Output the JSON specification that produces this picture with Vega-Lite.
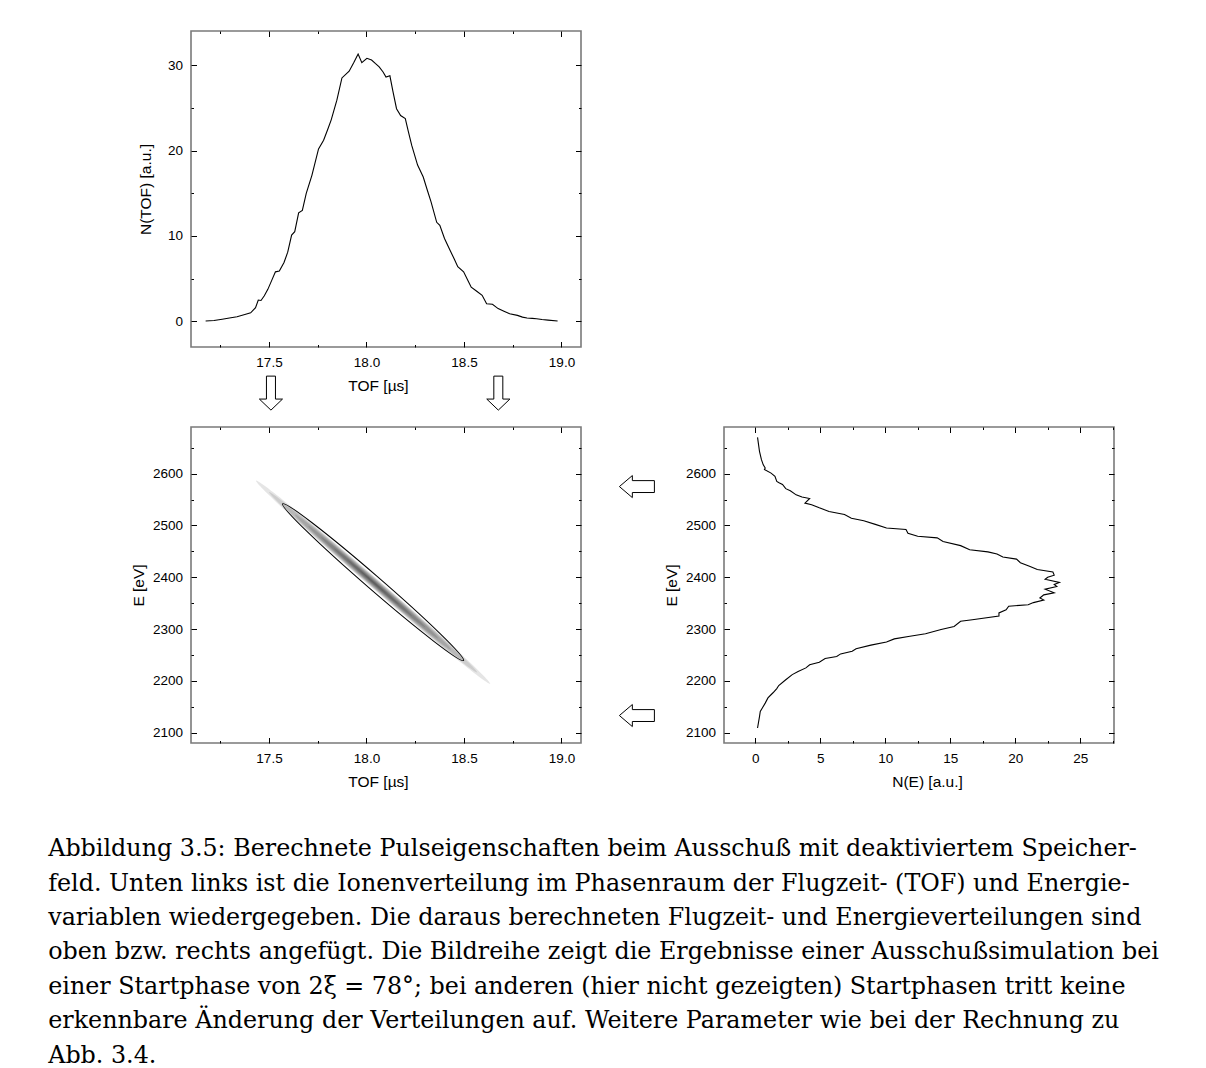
{
  "$schema": "https://vega.github.io/schema/vega-lite/v6.json",
  "background": "white",
  "padding": {"left": 48, "top": 29, "right": 5, "bottom": 0},
  "columns": 2,
  "bounds": "flush",
  "spacing": {"row": 80, "column": 143},
  "title": {
    "text": [
      "Abbildung 3.5: Berechnete Pulseigenschaften beim Ausschuß mit deaktiviertem Speicher-",
      "feld. Unten links ist die Ionenverteilung im Phasenraum der Flugzeit- (TOF) und Energie-",
      "variablen wiedergegeben. Die daraus berechneten Flugzeit- und Energieverteilungen sind",
      "oben bzw. rechts angefügt. Die Bildreihe zeigt die Ergebnisse einer Ausschußsimulation bei",
      "einer Startphase von 2ξ = 78°; bei anderen (hier nicht gezeigten) Startphasen tritt keine",
      "erkennbare Änderung der Verteilungen auf. Weitere Parameter wie bei der Rechnung zu",
      "Abb. 3.4."
    ],
    "orient": "bottom",
    "anchor": "start",
    "frame": "bounds",
    "dx": -82,
    "offset": 47,
    "font": "DejaVu Serif",
    "fontSize": 23.8,
    "fontWeight": "normal",
    "color": "black",
    "lineHeight": 34.4
  },
  "concat": [
    {
      "width": 390,
      "height": 316,
      "layer": [
        {
          "data": {"values": [
            {"TOF": 17.175, "N": 0.04}, {"TOF": 17.218, "N": 0.1}, {"TOF": 17.26, "N": 0.25},
            {"TOF": 17.297, "N": 0.4}, {"TOF": 17.336, "N": 0.55}, {"TOF": 17.376, "N": 0.8},
            {"TOF": 17.406, "N": 1.0}, {"TOF": 17.431, "N": 1.6}, {"TOF": 17.445, "N": 2.5},
            {"TOF": 17.459, "N": 2.45}, {"TOF": 17.476, "N": 3.0}, {"TOF": 17.494, "N": 3.75},
            {"TOF": 17.514, "N": 4.8}, {"TOF": 17.533, "N": 5.8}, {"TOF": 17.553, "N": 5.9},
            {"TOF": 17.577, "N": 6.9}, {"TOF": 17.596, "N": 8.1}, {"TOF": 17.616, "N": 10.1},
            {"TOF": 17.632, "N": 10.5}, {"TOF": 17.652, "N": 12.7}, {"TOF": 17.671, "N": 13.0},
            {"TOF": 17.691, "N": 15.0}, {"TOF": 17.72, "N": 17.1}, {"TOF": 17.754, "N": 20.2},
            {"TOF": 17.78, "N": 21.2}, {"TOF": 17.8, "N": 22.4}, {"TOF": 17.819, "N": 23.6},
            {"TOF": 17.848, "N": 25.9}, {"TOF": 17.874, "N": 28.5}, {"TOF": 17.911, "N": 29.3},
            {"TOF": 17.935, "N": 30.3}, {"TOF": 17.957, "N": 31.3}, {"TOF": 17.976, "N": 30.3},
            {"TOF": 18.002, "N": 30.8}, {"TOF": 18.026, "N": 30.6}, {"TOF": 18.045, "N": 30.2},
            {"TOF": 18.065, "N": 29.8}, {"TOF": 18.085, "N": 29.2}, {"TOF": 18.1, "N": 28.6},
            {"TOF": 18.12, "N": 28.75}, {"TOF": 18.135, "N": 27.0}, {"TOF": 18.154, "N": 24.9},
            {"TOF": 18.175, "N": 24.1}, {"TOF": 18.199, "N": 23.75}, {"TOF": 18.215, "N": 22.2},
            {"TOF": 18.232, "N": 20.6}, {"TOF": 18.262, "N": 18.3}, {"TOF": 18.291, "N": 16.9},
            {"TOF": 18.31, "N": 15.5}, {"TOF": 18.331, "N": 14.0}, {"TOF": 18.36, "N": 11.6},
            {"TOF": 18.376, "N": 11.25}, {"TOF": 18.4, "N": 9.7}, {"TOF": 18.429, "N": 8.3},
            {"TOF": 18.45, "N": 7.3}, {"TOF": 18.468, "N": 6.4}, {"TOF": 18.498, "N": 5.8},
            {"TOF": 18.52, "N": 4.8}, {"TOF": 18.537, "N": 4.0}, {"TOF": 18.567, "N": 3.5},
            {"TOF": 18.593, "N": 3.05}, {"TOF": 18.616, "N": 2.07}, {"TOF": 18.646, "N": 2.0},
            {"TOF": 18.675, "N": 1.5}, {"TOF": 18.705, "N": 1.2}, {"TOF": 18.734, "N": 0.9},
            {"TOF": 18.774, "N": 0.7}, {"TOF": 18.8, "N": 0.5}, {"TOF": 18.823, "N": 0.4},
            {"TOF": 18.85, "N": 0.35}, {"TOF": 18.872, "N": 0.3}, {"TOF": 18.9, "N": 0.22},
            {"TOF": 18.931, "N": 0.15}, {"TOF": 18.98, "N": 0.04}
          ]},
          "mark": {"type": "line", "color": "black", "strokeWidth": 1.1},
          "encoding": {
            "x": {
              "field": "TOF", "type": "quantitative",
              "scale": {"domain": [17.1, 19.1], "nice": false, "zero": false},
              "axis": {
                "orient": "bottom", "title": "TOF [µs]", "format": ".1f", "titleX": 187,
                "values": [17.25, 17.5, 17.75, 18.0, 18.25, 18.5, 18.75, 19.0],
                "labelExpr": "datum.value % 0.5 === 0 ? datum.label : ''",
                "tickSize": {"condition": {"test": "datum.value % 0.5 === 0", "value": -5.5}, "value": -2.5}
              }
            },
            "y": {
              "field": "N", "type": "quantitative",
              "scale": {"domain": [-3, 34], "nice": false, "zero": false},
              "axis": {
                "orient": "left", "title": "N(TOF) [a.u.]", "format": "d", "titleX": -46,
                "values": [0, 5, 10, 15, 20, 25, 30],
                "labelExpr": "datum.value % 10 === 0 ? datum.label : ''",
                "tickSize": {"condition": {"test": "datum.value % 10 === 0", "value": -5.5}, "value": -2.5}
              }
            }
          }
        },
        {
          "data": {"values": [{"TOF": 17.51, "N": -8.4}, {"TOF": 18.676, "N": -8.4}]},
          "mark": {
            "type": "point",
            "shape": "M-0.265,-1L0.265,-1L0.265,0.35L0.68,0.35L0,1L-0.68,0.35L-0.265,0.35Z",
            "size": 1156, "filled": true, "fill": "white", "stroke": "black",
            "strokeWidth": 1, "opacity": 1
          },
          "encoding": {
            "x": {
              "field": "TOF", "type": "quantitative",
              "scale": {"domain": [17.1, 19.1], "nice": false, "zero": false},
              "axis": {
                "orient": "top", "title": null, "labels": false,
                "values": [17.25, 17.5, 17.75, 18.0, 18.25, 18.5, 18.75, 19.0],
                "tickSize": {"condition": {"test": "datum.value % 0.5 === 0", "value": -5.5}, "value": -2.5}
              }
            },
            "y": {
              "field": "N", "type": "quantitative",
              "scale": {"domain": [-3, 34], "nice": false, "zero": false},
              "axis": {
                "orient": "right", "title": null, "labels": false,
                "values": [0, 5, 10, 15, 20, 25, 30],
                "tickSize": {"condition": {"test": "datum.value % 10 === 0", "value": -5.5}, "value": -2.5}
              }
            }
          }
        }
      ],
      "resolve": {"axis": {"x": "independent", "y": "independent"}}
    },
    {
      "width": 390,
      "height": 316,
      "view": {"stroke": null},
      "data": {"values": []},
      "mark": "point"
    },
    {
      "width": 390,
      "height": 316,
      "layer": [
        {
          "data": {"values": [
            {"TOF": 18.034, "E": 2390.5, "contour": 1},
            {"TOF": 18.034, "E": 2390.5, "contour": 2},
            {"TOF": 18.034, "E": 2390.5, "contour": 3},
            {"TOF": 18.034, "E": 2390.5, "contour": 4},
            {"TOF": 18.034, "E": 2390.5, "contour": 5},
            {"TOF": 18.034, "E": 2390.5, "contour": 6},
            {"TOF": 18.034, "E": 2390.5, "contour": 7},
            {"TOF": 18.034, "E": 2390.5, "contour": 8},
            {"TOF": 18.034, "E": 2390.5, "contour": 9}
          ]},
          "mark": {
            "type": "point",
            "shape": "M-1,0A1,0.032 0 1,0 1,0A1,0.032 0 1,0 -1,0Z",
            "filled": true, "fill": "black", "fillOpacity": 0.1,
            "strokeWidth": 0, "opacity": 1, "angle": 40.9
          },
          "encoding": {
            "x": {
              "field": "TOF", "type": "quantitative",
              "scale": {"domain": [17.1, 19.1], "nice": false, "zero": false},
              "axis": {
                "orient": "bottom", "title": "TOF [µs]", "format": ".1f", "titleX": 187,
                "values": [17.25, 17.5, 17.75, 18.0, 18.25, 18.5, 18.75, 19.0],
                "labelExpr": "datum.value % 0.5 === 0 ? datum.label : ''",
                "tickSize": {"condition": {"test": "datum.value % 0.5 === 0", "value": -5.5}, "value": -2.5}
              }
            },
            "y": {
              "field": "E", "type": "quantitative",
              "scale": {"domain": [2080, 2690], "nice": false, "zero": false},
              "axis": {
                "orient": "left", "title": "E [eV]", "format": "d", "titleX": -53,
                "values": [2100, 2150, 2200, 2250, 2300, 2350, 2400, 2450, 2500, 2550, 2600, 2650],
                "labelExpr": "datum.value % 100 === 0 ? datum.label : ''",
                "tickSize": {"condition": {"test": "datum.value % 100 === 0", "value": -5.5}, "value": -2.5}
              }
            },
            "size": {
              "field": "contour", "type": "quantitative", "legend": null,
              "scale": {"type": "pow", "exponent": 2, "domain": [0, 9], "range": [0, 96100]}
            }
          }
        },
        {
          "data": {"values": [{"TOF": 18.034, "E": 2390.5}]},
          "mark": {
            "type": "point",
            "shape": "M-1,0A1,0.0585 0 1,0 1,0A1,0.0585 0 1,0 -1,0Z",
            "filled": false, "stroke": "black", "strokeWidth": 1,
            "size": 57312, "opacity": 1, "angle": 40.9
          },
          "encoding": {
            "x": {
              "field": "TOF", "type": "quantitative",
              "scale": {"domain": [17.1, 19.1], "nice": false, "zero": false},
              "axis": {
                "orient": "top", "title": null, "labels": false,
                "values": [17.25, 17.5, 17.75, 18.0, 18.25, 18.5, 18.75, 19.0],
                "tickSize": {"condition": {"test": "datum.value % 0.5 === 0", "value": -5.5}, "value": -2.5}
              }
            },
            "y": {
              "field": "E", "type": "quantitative",
              "scale": {"domain": [2080, 2690], "nice": false, "zero": false},
              "axis": {
                "orient": "right", "title": null, "labels": false,
                "values": [2100, 2150, 2200, 2250, 2300, 2350, 2400, 2450, 2500, 2550, 2600, 2650],
                "tickSize": {"condition": {"test": "datum.value % 100 === 0", "value": -5.5}, "value": -2.5}
              }
            }
          }
        }
      ],
      "resolve": {"axis": {"x": "independent", "y": "independent"}}
    },
    {
      "width": 390,
      "height": 316,
      "layer": [
        {
          "data": {"values": [
            {"N": 0.18, "E": 2670}, {"N": 0.33, "E": 2643}, {"N": 0.48, "E": 2627}, {"N": 0.62, "E": 2617},
            {"N": 0.77, "E": 2611}, {"N": 0.71, "E": 2608}, {"N": 1.22, "E": 2601}, {"N": 1.52, "E": 2595},
            {"N": 1.66, "E": 2585}, {"N": 1.87, "E": 2582}, {"N": 2.1, "E": 2579}, {"N": 2.35, "E": 2571},
            {"N": 2.7, "E": 2567}, {"N": 3.15, "E": 2559}, {"N": 3.6, "E": 2555}, {"N": 4.19, "E": 2552},
            {"N": 3.83, "E": 2543}, {"N": 4.34, "E": 2540}, {"N": 4.93, "E": 2534}, {"N": 5.68, "E": 2527},
            {"N": 6.87, "E": 2521}, {"N": 7.4, "E": 2514}, {"N": 8.35, "E": 2509}, {"N": 9.24, "E": 2502},
            {"N": 10.1, "E": 2495}, {"N": 11.6, "E": 2492}, {"N": 11.75, "E": 2485}, {"N": 12.5, "E": 2479},
            {"N": 14.0, "E": 2476}, {"N": 14.45, "E": 2469}, {"N": 15.8, "E": 2461}, {"N": 16.5, "E": 2453},
            {"N": 17.9, "E": 2449}, {"N": 18.6, "E": 2445}, {"N": 19.05, "E": 2439}, {"N": 20.1, "E": 2435},
            {"N": 20.4, "E": 2428}, {"N": 21.1, "E": 2421}, {"N": 21.7, "E": 2415}, {"N": 22.9, "E": 2410},
            {"N": 23.0, "E": 2404}, {"N": 22.5, "E": 2400}, {"N": 22.3, "E": 2396}, {"N": 23.4, "E": 2390},
            {"N": 23.0, "E": 2386}, {"N": 23.2, "E": 2382}, {"N": 22.3, "E": 2377}, {"N": 23.0, "E": 2370},
            {"N": 22.2, "E": 2366}, {"N": 21.9, "E": 2360}, {"N": 22.2, "E": 2356}, {"N": 21.4, "E": 2351},
            {"N": 21.0, "E": 2347}, {"N": 19.5, "E": 2344}, {"N": 19.3, "E": 2337}, {"N": 18.75, "E": 2331},
            {"N": 18.75, "E": 2325}, {"N": 16.7, "E": 2318}, {"N": 15.8, "E": 2315}, {"N": 15.3, "E": 2305},
            {"N": 14.3, "E": 2299}, {"N": 13.1, "E": 2291}, {"N": 11.9, "E": 2286}, {"N": 10.7, "E": 2281},
            {"N": 10.1, "E": 2275}, {"N": 8.9, "E": 2269}, {"N": 7.76, "E": 2262}, {"N": 7.46, "E": 2257},
            {"N": 6.57, "E": 2252}, {"N": 6.27, "E": 2247}, {"N": 5.38, "E": 2243}, {"N": 4.93, "E": 2236},
            {"N": 4.19, "E": 2231}, {"N": 3.9, "E": 2225}, {"N": 3.3, "E": 2218}, {"N": 2.85, "E": 2212},
            {"N": 2.35, "E": 2202}, {"N": 1.81, "E": 2191}, {"N": 1.66, "E": 2185}, {"N": 1.37, "E": 2177},
            {"N": 0.98, "E": 2167}, {"N": 0.77, "E": 2157}, {"N": 0.56, "E": 2148}, {"N": 0.39, "E": 2141},
            {"N": 0.33, "E": 2131}, {"N": 0.18, "E": 2109}
          ]},
          "mark": {"type": "line", "color": "black", "strokeWidth": 1.1},
          "encoding": {
            "x": {
              "field": "N", "type": "quantitative",
              "scale": {"domain": [-2.4, 27.6], "nice": false, "zero": false},
              "axis": {
                "orient": "bottom", "title": "N(E) [a.u.]", "format": "d", "titleX": 203,
                "values": [0, 2.5, 5, 7.5, 10, 12.5, 15, 17.5, 20, 22.5, 25, 27.5],
                "labelExpr": "datum.value % 5 === 0 ? datum.label : ''",
                "tickSize": {"condition": {"test": "datum.value % 5 === 0", "value": -5.5}, "value": -2.5}
              }
            },
            "y": {
              "field": "E", "type": "quantitative",
              "scale": {"domain": [2080, 2690], "nice": false, "zero": false},
              "axis": {
                "orient": "left", "title": "E [eV]", "format": "d", "titleX": -53,
                "values": [2100, 2150, 2200, 2250, 2300, 2350, 2400, 2450, 2500, 2550, 2600, 2650],
                "labelExpr": "datum.value % 100 === 0 ? datum.label : ''",
                "tickSize": {"condition": {"test": "datum.value % 100 === 0", "value": -5.5}, "value": -2.5}
              }
            },
            "order": {"field": "E", "type": "quantitative"}
          }
        },
        {
          "data": {"values": [{"N": -9.1, "E": 2575}, {"N": -9.1, "E": 2133}]},
          "mark": {
            "type": "point",
            "shape": "M1,-0.34L-0.26,-0.34L-0.26,-0.63L-1,0L-0.26,0.63L-0.26,0.34L1,0.34Z",
            "size": 1225, "filled": true, "fill": "white", "stroke": "black",
            "strokeWidth": 1, "opacity": 1
          },
          "encoding": {
            "x": {
              "field": "N", "type": "quantitative",
              "scale": {"domain": [-2.4, 27.6], "nice": false, "zero": false},
              "axis": {
                "orient": "top", "title": null, "labels": false,
                "values": [0, 2.5, 5, 7.5, 10, 12.5, 15, 17.5, 20, 22.5, 25, 27.5],
                "tickSize": {"condition": {"test": "datum.value % 5 === 0", "value": -5.5}, "value": -2.5}
              }
            },
            "y": {
              "field": "E", "type": "quantitative",
              "scale": {"domain": [2080, 2690], "nice": false, "zero": false},
              "axis": {
                "orient": "right", "title": null, "labels": false,
                "values": [2100, 2150, 2200, 2250, 2300, 2350, 2400, 2450, 2500, 2550, 2600, 2650],
                "tickSize": {"condition": {"test": "datum.value % 100 === 0", "value": -5.5}, "value": -2.5}
              }
            }
          }
        }
      ],
      "resolve": {"axis": {"x": "independent", "y": "independent"}}
    }
  ],
  "config": {
    "view": {"stroke": "#7a7a7a", "strokeWidth": 1.6},
    "axis": {
      "domain": false,
      "grid": false,
      "labelFont": "Liberation Sans",
      "labelFontSize": 13.5,
      "labelColor": "black",
      "labelFlush": false,
      "labelOverlap": false,
      "titleFont": "Liberation Sans",
      "titleFontSize": 15.5,
      "titleFontWeight": "normal",
      "titleColor": "black",
      "tickColor": "black",
      "tickWidth": 1
    },
    "axisX": {"labelPadding": 13.5, "titleY": 38, "titleBaseline": "middle"},
    "axisY": {"labelPadding": 14, "titleBaseline": "middle"}
  }
}
